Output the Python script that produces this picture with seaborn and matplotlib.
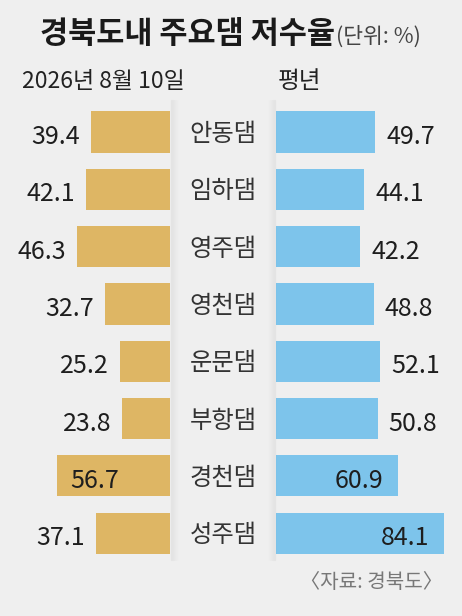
import numpy as np
import pandas as pd
import seaborn as sns
import matplotlib.pyplot as plt

# data
dams = ['안동댐', '임하댐', '영주댐', '영천댐', '운문댐', '부항댐', '경천댐', '성주댐']
rate_today = [39.4, 42.1, 46.3, 32.7, 25.2, 23.8, 56.7, 37.1]   # 2026년 8월 10일
rate_normal = [49.7, 44.1, 42.2, 48.8, 52.1, 50.8, 60.9, 84.1]  # 평년

title = '경북도내 주요댐 저수율'
unit = '(단위: %)'
left_head = '2026년 8월 10일'
right_head = '평년'
source = '〈자료: 경북도〉'

BG = '#efefef'
GOLD = '#deb664'
BLUE = '#7dc4eb'

sns.set_theme(style='white')
plt.rcParams['font.family'] = ['Liberation Sans Narrow', 'Noto Sans CJK KR', 'DejaVu Sans']

W, H = 462, 616
fig = plt.figure(figsize=(W / 100, H / 100), dpi=100, facecolor=BG)

def px(x0, y0, w, h):
    # pixel box (from top-left) -> figure fraction rect
    return [x0 / W, 1 - (y0 + h) / H, w / W, h / H]

df = pd.DataFrame({'dam': dams, 'today': rate_today, 'normal': rate_normal})

# faint shadow on both edges of the center column
panel_top, panel_bot = 100, 560
for i in range(8):
    a = 0.035 * (8 - i) / 8
    for xe in (171 + i, 275 - i):
        fig.add_artist(plt.Line2D([xe / W, xe / W], [1 - panel_bot / H, 1 - panel_top / H],
                                  transform=fig.transFigure, color='black', alpha=a, lw=1))

row_top, row_h = 103.4, 57.3
ax_l = fig.add_axes(px(10, row_top, 160, row_h * 8))
ax_r = fig.add_axes(px(276, row_top, 176, row_h * 8))

sns.barplot(data=df, x='today', y='dam', ax=ax_l, color=GOLD, saturation=1,
            width=0.72, orient='h', linewidth=0)
sns.barplot(data=df, x='normal', y='dam', ax=ax_r, color=BLUE, saturation=1,
            width=0.72, orient='h', linewidth=0)

ax_l.set_xlim(80, 0)
ax_r.set_xlim(0, 88)
for ax in (ax_l, ax_r):
    ax.set_ylim(7.5, -0.5)
    ax.axis('off')
    ax.patch.set_alpha(0)

num_kw = dict(fontsize=18, color='#1e1e1e', va='center_baseline',
              textcoords='offset pixels')
for i, v in enumerate(rate_today):
    if v > 55:
        ax_l.annotate(f'{v:.1f}', (v, i), xytext=(14, -2), ha='left', **num_kw)
    else:
        ax_l.annotate(f'{v:.1f}', (v, i), xytext=(-11, -2), ha='right', **num_kw)
for i, v in enumerate(rate_normal):
    if v > 55:
        ax_r.annotate(f'{v:.1f}', (v, i), xytext=(-15, -2), ha='right', **num_kw)
    else:
        ax_r.annotate(f'{v:.1f}', (v, i), xytext=(11, -2), ha='left', **num_kw)

# dam names in the center column
for i, d in enumerate(dams):
    fig.text(223 / W, 1 - (row_top + row_h * (i + 0.5) + 2) / H, d, ha='center',
             va='center', fontsize=17.5, color='#333333', family=['Noto Sans CJK KR'])

fig.text(40 / W, 1 - 34 / H, title, ha='left', va='center', fontsize=22,
         fontweight='bold', color='#1a1a1a', family=['Noto Sans CJK KR'])
fig.text(336 / W, 1 - 37 / H, unit, ha='left', va='center', fontsize=15.5,
         color='#444444')
fig.text(22 / W, 1 - 82 / H, left_head, ha='left', va='center', fontsize=16.5,
         color='#222222')
fig.text(278 / W, 1 - 82 / H, right_head, ha='left', va='center', fontsize=17,
         color='#222222', family=['Noto Sans CJK KR'])
fig.text(443 / W, 1 - 583 / H, source, ha='right', va='center', fontsize=14.5,
         color='#777777')

fig.savefig('out.png', dpi=100, facecolor=BG)
